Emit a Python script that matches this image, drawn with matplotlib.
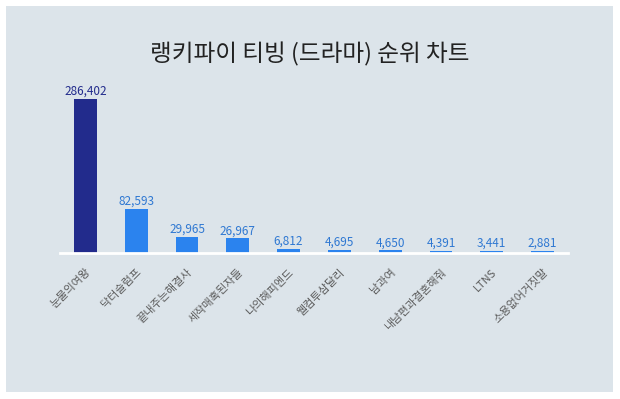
import matplotlib.pyplot as plt
from matplotlib.patches import Rectangle

plt.rcParams['font.family'] = ['Noto Sans CJK KR', 'DejaVu Sans']

titles = ['눈물의여왕', '닥터슬럼프', '끝내주는해결사', '세작매혹된자들', '나의해피엔드',
          '웰컴투삼달리', '남과여', '내남편과결혼해줘', 'LTNS', '소용없어거짓말']
views = [286402, 82593, 29965, 26967, 6812, 4695, 4650, 4391, 3441, 2881]

top_color = '#222b8c'
bar_color = '#2b83ee'
bg = '#dce4ea'

fig = plt.figure(figsize=(6.2, 3.99), dpi=100)
fig.patch.set_facecolor('white')
# panel behind the chart
fig.patches.append(Rectangle((6 / 620, 7 / 399), 607 / 620, 386 / 399,
                             transform=fig.transFigure, facecolor=bg,
                             edgecolor='none', zorder=-10))

ax = fig.add_axes([60 / 620, 146 / 399, 508 / 620, 154 / 399])
ax.set_facecolor('none')

colors = [top_color] + [bar_color] * (len(views) - 1)
bars = ax.bar(range(len(views)), views, width=0.45, color=colors, zorder=2)

for i, (b, v) in enumerate(zip(bars, views)):
    ax.text(b.get_x() + b.get_width() / 2, v + 2500, f'{v:,}',
            ha='center', va='bottom', fontsize=8.5,
            color=top_color if i == 0 else '#2f78d2', clip_on=False)

ax.set_xlim(-0.5, len(views) - 0.5)
ax.set_ylim(0, max(views))
ax.set_yticks([])
ax.set_xticks(range(len(views)))
ax.set_xticklabels(titles, rotation=45, ha='right', rotation_mode='anchor',
                   fontsize=8, color='#5a5a5a')
ax.tick_params(axis='x', length=0, pad=10)
for s in ['top', 'right', 'left']:
    ax.spines[s].set_visible(False)
ax.spines['bottom'].set_color('white')
ax.spines['bottom'].set_linewidth(2)

fig.text(0.5, 1 - 54 / 399, '랭키파이 티빙 (드라마) 순위 차트', ha='center',
         va='center', fontsize=17, color='#222222')

plt.savefig('out.png', dpi=100)
